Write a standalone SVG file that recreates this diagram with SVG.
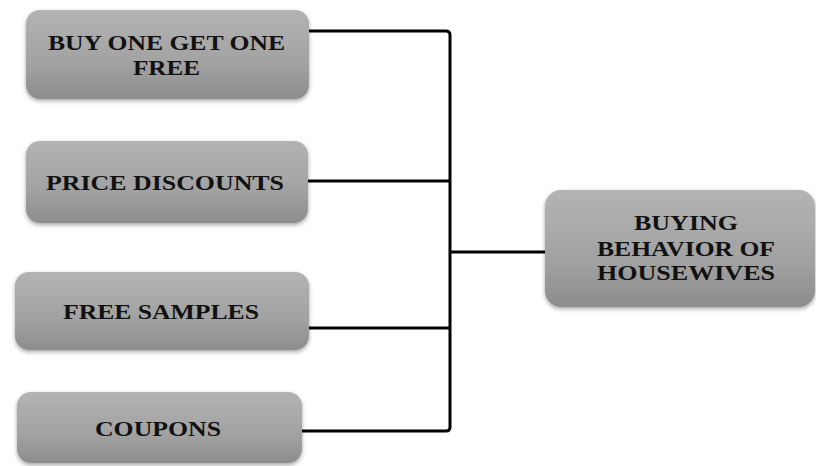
<svg xmlns="http://www.w3.org/2000/svg" width="816" height="466" viewBox="0 0 816 466">
<style>
.box{fill:url(#g);filter:url(#sh)}
.t{font-family:"Liberation Serif","Times New Roman",serif;font-weight:bold;font-size:21px;fill:#111;text-anchor:middle}
.c{fill:none;stroke:#000;stroke-width:3;stroke-linejoin:round}
</style>
<defs>
<linearGradient id="g" x1="0" y1="0" x2="0" y2="1">
<stop offset="0" stop-color="#b3b3b3"/>
<stop offset="0.6" stop-color="#a2a2a2"/>
<stop offset="1" stop-color="#8d8d8d"/>
</linearGradient>
<filter id="sh" x="-10%" y="-15%" width="120%" height="135%">
<feDropShadow dx="0" dy="2" stdDeviation="2" flood-color="#000" flood-opacity="0.35"/>
</filter>
</defs>
<rect width="816" height="466" fill="#fff"/>
<g id="connectors">
<path class="c" d="M309 31 H446 Q450 31 450 35 V427 Q450 431 446 431 H302"/>
<path class="c" d="M308 181 H450"/>
<path class="c" d="M309 328 H450"/>
<path class="c" d="M450 252 H545"/>
</g>
<g id="n1">
<rect class="box" x="26" y="10" width="283" height="89" rx="14"/>
<text class="t" x="166.5" y="50" textLength="237" lengthAdjust="spacingAndGlyphs">BUY ONE GET ONE</text>
<text class="t" x="166.5" y="75" textLength="67" lengthAdjust="spacingAndGlyphs">FREE</text>
</g>
<g id="n2">
<rect class="box" x="26" y="141" width="282" height="82" rx="14"/>
<text class="t" x="165" y="190" textLength="238" lengthAdjust="spacingAndGlyphs">PRICE DISCOUNTS</text>
</g>
<g id="n3">
<rect class="box" x="15" y="272" width="294" height="78" rx="14"/>
<text class="t" x="161" y="319" textLength="196" lengthAdjust="spacingAndGlyphs">FREE SAMPLES</text>
</g>
<g id="n4">
<rect class="box" x="17" y="392" width="285" height="71" rx="14"/>
<text class="t" x="158" y="436" textLength="126" lengthAdjust="spacingAndGlyphs">COUPONS</text>
</g>
<g id="n5">
<rect class="box" x="545" y="190" width="270" height="117" rx="16"/>
<text class="t" x="686" y="230" textLength="104" lengthAdjust="spacingAndGlyphs">BUYING</text>
<text class="t" x="686" y="256" textLength="178" lengthAdjust="spacingAndGlyphs">BEHAVIOR OF</text>
<text class="t" x="686" y="280" textLength="178" lengthAdjust="spacingAndGlyphs">HOUSEWIVES</text>
</g>
</svg>
